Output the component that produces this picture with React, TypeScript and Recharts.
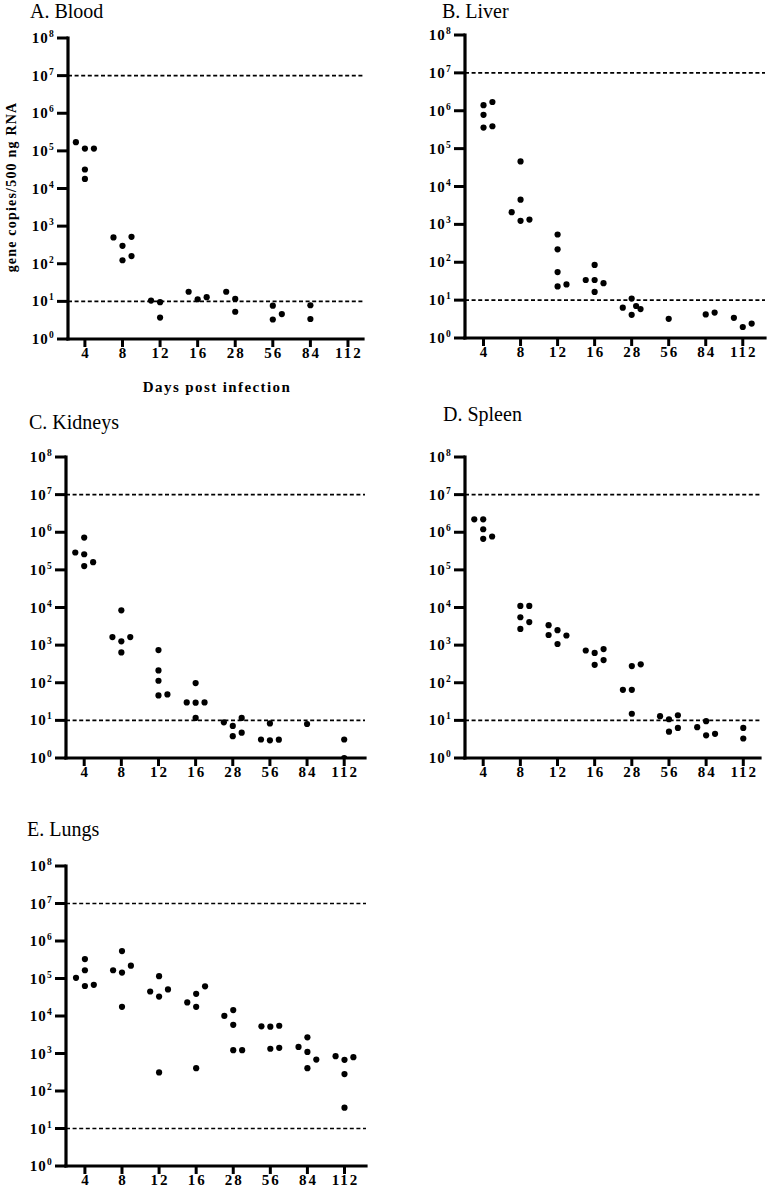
import React from 'react'
import {
  ScatterChart,
  Scatter,
  XAxis,
  YAxis,
  ReferenceLine,
} from 'recharts'

// sampling days (categorical x axis)
const days = ['4', '8', '12', '16', '28', '56', '84', '112']
const yTicks = [1, 10, 1e2, 1e3, 1e4, 1e5, 1e6, 1e7, 1e8]
const limits = [1e7, 10]

// per day: [horizontal slot, gene copies]
const blood: [number, number][][] = [
  [[-1, 1.7e5], [0, 1.15e5], [1, 1.15e5], [0, 3.2e4], [0, 1.8e4]],
  [[-1, 500], [1, 520], [0, 300], [1, 160], [0, 124]],
  [[-1, 10.5], [0, 9.5], [0, 3.7]],
  [[-1, 18], [0, 11.4], [1, 12.9]],
  [[-1, 18], [0, 11.6], [0, 5.3]],
  [[0, 7.7], [1, 4.6], [0, 3.3]],
  [[0, 7.9], [0, 3.4]],
  [],
]

const liver: [number, number][][] = [
  [[0, 1.4e6], [1, 1.7e6], [0, 7.8e5], [0, 3.6e5], [1, 3.9e5]],
  [[0, 4.6e4], [0, 4.5e3], [-1, 2.1e3], [0, 1.24e3], [1, 1.34e3]],
  [[0, 540], [0, 220], [0, 55], [0, 23], [1, 26]],
  [[0, 85], [-1, 34], [0, 34], [1, 28], [0, 16.5]],
  [[0, 11], [-1, 6.3], [0.5, 7], [1, 5.8], [0, 4.1]],
  [[0, 3.2]],
  [[0, 4.2], [1, 4.7]],
  [[-1, 3.4], [0, 1.95], [1, 2.4]],
]

const kidneys: [number, number][][] = [
  [[0, 7.2e5], [-1, 2.9e5], [0, 2.6e5], [1, 1.6e5], [0, 1.26e5]],
  [[0, 8.4e3], [-1, 1.64e3], [1, 1.64e3], [0, 1.26e3], [0, 640]],
  [[0, 740], [0, 213], [0, 113], [0, 46], [1, 49]],
  [[0, 98], [-1, 30], [0, 29.5], [1, 30], [0, 11.6]],
  [[-1, 8.9], [0, 7.1], [1, 11.6], [0, 3.8], [1, 4.7]],
  [[0, 8.3], [-1, 3.1], [0, 2.95], [1, 3.07]],
  [[0, 8]],
  [[0, 3.1], [0, 1]],
]

const spleen: [number, number][][] = [
  [[-1, 2.2e6], [0, 2.2e6], [0, 1.2e6], [0, 6.7e5], [1, 7.7e5]],
  [[0, 1.1e4], [1, 1.1e4], [0, 5.5e3], [1, 4.1e3], [0, 2.7e3]],
  [[-1, 3.4e3], [0, 2.5e3], [-1, 1.86e3], [1, 1.8e3], [0, 1.07e3]],
  [[-1, 720], [0, 620], [1, 785], [0, 300], [1, 400]],
  [[-1, 65], [0, 65], [0, 277], [1, 308], [0, 15]],
  [[-1, 12.9], [0, 10.7], [1, 13.7], [0, 5], [1, 6.3]],
  [[-1, 6.6], [0, 9.5], [0, 4], [1, 4.4]],
  [[0, 6.3], [0, 3.3]],
]

const lungs: [number, number][][] = [
  [[-1, 1.04e5], [0, 3.3e5], [0, 1.66e5], [0, 6.3e4], [1, 6.8e4]],
  [[0, 5.4e5], [-1, 1.66e5], [0, 1.44e5], [1, 2.2e5], [0, 1.76e4]],
  [[0, 1.15e5], [-1, 4.5e4], [0, 3.3e4], [1, 5.1e4], [0, 313]],
  [[-1, 2.3e4], [0, 3.9e4], [0, 1.76e4], [1, 6.2e4], [0, 407]],
  [[-1, 1.01e4], [0, 1.44e4], [0, 5.8e3], [0, 1.23e3], [1, 1.23e3]],
  [[-1, 5.3e3], [0, 5.2e3], [1, 5.5e3], [0, 1.34e3], [1, 1.42e3]],
  [[-1, 1.5e3], [0, 2.7e3], [0, 1.1e3], [1, 690], [0, 407]],
  [[-1, 850], [0, 680], [1, 800], [0, 283], [0, 36]],
]

const SERIF = "'Liberation Serif', 'Times New Roman', Times, serif"
const JITTER = 0.24
const Y_AXIS_W = 62
const TOP_PAD = 12
const Y_TICK = 11
const X_TICK = 8
const AXIS_W = 3.2

// tick label plus its own heavy tick stub
const PowerTick = (props: any) => {
  const { x, y, payload } = props
  const exp = Math.round(Math.log10(payload.value))
  return (
    <g>
      <line x1={x} x2={x + Y_TICK} y1={y} y2={y} stroke="#000" strokeWidth={3} />
      <text
        x={x - 2}
        y={y}
        dy={5}
        textAnchor="end"
        fontFamily={SERIF}
        fontWeight="bold"
        fontSize={15}
        letterSpacing={1.2}
        fill="#000"
        stroke="none"
      >
        10
        <tspan dy={-6} fontSize={9.5}>
          {exp}
        </tspan>
      </text>
    </g>
  )
}

const DayTick = (props: any) => {
  const { x, y, payload } = props
  return (
    <g>
      <line x1={x} x2={x} y1={y - X_TICK} y2={y} stroke="#000" strokeWidth={3} />
      <text
        x={x + 1}
        y={y}
        dy={11}
        textAnchor="middle"
        fontFamily={SERIF}
        fontWeight="bold"
        fontSize={15}
        letterSpacing={2}
        fill="#000"
        stroke="none"
      >
        {days[payload.value]}
      </text>
    </g>
  )
}

const Dot = (props: any) => <circle cx={props.cx} cy={props.cy} r={3.1} fill="#000" />

interface PanelProps {
  title: string
  groups: [number, number][][]
  left: number
  top: number
  width: number
  height: number
  xMin: number
  xMax: number
  titleX: number
  titleY: number
}

function Panel({ title, groups, left, top, width, height, xMin, xMax, titleX, titleY }: PanelProps) {
  const data = groups.flatMap((g, i) => g.map(([slot, v]) => ({ x: i + slot * JITTER, y: v })))
  return (
    <>
      <div
        style={{
          position: 'absolute',
          left: titleX,
          top: titleY,
          fontFamily: SERIF,
          fontSize: 20,
          lineHeight: '22px',
          whiteSpace: 'nowrap',
        }}
      >
        {title}
      </div>
      <div style={{ position: 'absolute', left: left - Y_AXIS_W, top: top - TOP_PAD }}>
        <ScatterChart
          width={width + Y_AXIS_W + 2}
          height={height + TOP_PAD + 30}
          margin={{ top: TOP_PAD, right: 2, left: 0, bottom: 0 }}
        >
          <XAxis
            type="number"
            dataKey="x"
            domain={[xMin, xMax]}
            ticks={[0, 1, 2, 3, 4, 5, 6, 7]}
            allowDataOverflow
            height={30}
            tick={<DayTick />}
            tickSize={X_TICK}
            tickMargin={0}
            axisLine={false}
            tickLine={false}
          />
          <YAxis
            type="number"
            dataKey="y"
            scale="log"
            domain={[1, 1e8]}
            ticks={yTicks}
            allowDataOverflow
            width={Y_AXIS_W}
            tick={<PowerTick />}
            tickSize={Y_TICK}
            tickMargin={0}
            axisLine={false}
            tickLine={false}
          />
          {limits.map((v) => (
            <ReferenceLine key={v} y={v} stroke="#000" strokeWidth={1.7} strokeDasharray="4 2.6" />
          ))}
          {/* heavy axis frame (left and bottom) */}
          <ReferenceLine x={xMin} stroke="#000" strokeWidth={AXIS_W} strokeLinecap="square" ifOverflow="visible" />
          <ReferenceLine y={1} stroke="#000" strokeWidth={AXIS_W} strokeLinecap="square" ifOverflow="visible" />
          <Scatter data={data} fill="#000" shape={<Dot />} isAnimationActive={false} />
        </ScatterChart>
      </div>
    </>
  )
}

export default function App() {
  return (
    <div
      style={{
        position: 'absolute',
        left: 0,
        top: 0,
        width: 767,
        height: 1193,
        overflow: 'hidden',
        background: '#fff',
      }}
    >
      <Panel title="A. Blood" groups={blood} left={68} top={38} width={295} height={301}
        xMin={-0.45} xMax={7.4} titleX={30} titleY={0} />
      <Panel title="B. Liver" groups={liver} left={465} top={35} width={300} height={303}
        xMin={-0.5} xMax={7.6} titleX={442} titleY={0} />
      <Panel title="C. Kidneys" groups={kidneys} left={66} top={457} width={299} height={301}
        xMin={-0.49} xMax={7.56} titleX={29} titleY={411} />
      <Panel title="D. Spleen" groups={spleen} left={465} top={457} width={295} height={301}
        xMin={-0.49} xMax={7.45} titleX={443} titleY={403} />
      <Panel title="E. Lungs" groups={lungs} left={66} top={866} width={300} height={300}
        xMin={-0.51} xMax={7.58} titleX={27} titleY={818} />
      <div
        style={{
          position: 'absolute',
          left: 12,
          top: 187,
          transform: 'translate(-50%, -50%) rotate(-90deg)',
          fontFamily: SERIF,
          fontWeight: 'bold',
          fontSize: 14,
          letterSpacing: 1.2,
          whiteSpace: 'nowrap',
          lineHeight: 1,
        }}
      >
        gene copies/500 ng RNA
      </div>
      <div
        style={{
          position: 'absolute',
          left: 217,
          top: 380,
          transform: 'translateX(-50%)',
          fontFamily: SERIF,
          fontWeight: 'bold',
          fontSize: 15,
          letterSpacing: 1.4,
          whiteSpace: 'nowrap',
          lineHeight: 1,
        }}
      >
        Days post infection
      </div>
    </div>
  )
}
